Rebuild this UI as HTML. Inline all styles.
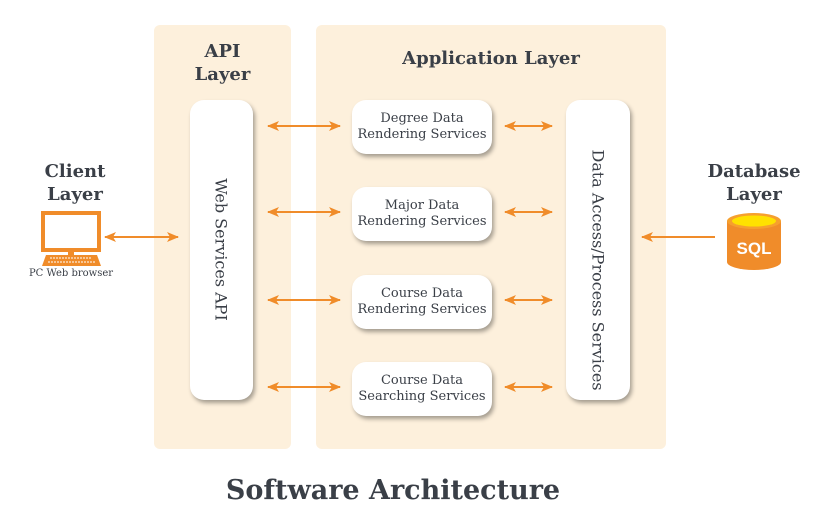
<!DOCTYPE html>
<html><head><style>
body{margin:0;width:816px;height:520px;background:#fff;position:relative;font-family:"DejaVu Serif","Liberation Serif",serif;color:#3a3f47;overflow:hidden}
.p{position:absolute;background:#fdf0dc;border-radius:6px}
.b{position:absolute;background:#fff;border-radius:14px;box-shadow:2px 3px 4px rgba(0,0,0,.35)}
.h{position:absolute;font-weight:bold;font-size:18px;text-align:center;line-height:23px}
.s{position:absolute;left:352px;width:140px;height:54px;background:#fff;border-radius:14px;box-shadow:2px 3px 4px rgba(0,0,0,.35);font-size:13px;text-align:center;line-height:16px;display:flex;align-items:center;justify-content:center}
.v{position:absolute;font-size:16px;white-space:nowrap;transform:rotate(90deg);transform-origin:center}
</style></head><body>
<div class="p" style="left:154px;top:25px;width:137px;height:424px"></div>
<div class="p" style="left:316px;top:25px;width:350px;height:424px"></div>
<div class="h" style="left:154px;top:40px;width:137px">API<br>Layer</div>
<div class="h" style="left:316px;top:47px;width:350px">Application Layer</div>
<div class="h" style="left:20px;top:160px;width:110px">Client<br>Layer</div>
<div class="h" style="left:690px;top:160px;width:128px">Database<br>Layer</div>
<div class="b" style="left:190px;top:100px;width:63px;height:300px"></div>
<div class="b" style="left:566px;top:100px;width:64px;height:300px"></div>
<div class="v" style="left:121px;top:240px;width:200px;text-align:center">Web Services API</div>
<div class="v" style="left:498px;top:240px;width:200px;text-align:center">Data Access/Process Services</div>
<div class="s" style="top:100px">Degree Data<br>Rendering Services</div>
<div class="s" style="top:187px">Major Data<br>Rendering Services</div>
<div class="s" style="top:275px">Course Data<br>Rendering Services</div>
<div class="s" style="top:362px">Course Data<br>Searching Services</div>
<div style="position:absolute;left:0;top:268px;width:142px;text-align:center;font-size:10px">PC Web browser</div>
<div style="position:absolute;left:0;top:475px;width:786px;text-align:center;font-size:27px;font-weight:bold">Software Architecture</div>
<svg width="816" height="520" style="position:absolute;left:0;top:0">
<defs>
<marker id="a" markerWidth="12" markerHeight="10" refX="11" refY="5" orient="auto-start-reverse" markerUnits="userSpaceOnUse"><path d="M0,0L12,5L0,10L3,5Z" fill="#f08c2a"/></marker>
</defs>
<g stroke="#f08c2a" stroke-width="2" marker-start="url(#a)" marker-end="url(#a)">
<line x1="268" y1="126" x2="340" y2="126"/><line x1="505" y1="126" x2="552" y2="126"/>
<line x1="268" y1="212" x2="340" y2="212"/><line x1="505" y1="212" x2="552" y2="212"/>
<line x1="268" y1="300" x2="340" y2="300"/><line x1="505" y1="300" x2="552" y2="300"/>
<line x1="268" y1="387" x2="340" y2="387"/><line x1="505" y1="387" x2="552" y2="387"/>
<line x1="105" y1="237" x2="178" y2="237"/>
</g>
<line x1="715" y1="237" x2="642" y2="237" stroke="#f08c2a" stroke-width="2" marker-end="url(#a)"/>
<rect x="43" y="213" width="56" height="37" fill="#fff" stroke="#f08c2a" stroke-width="4"/>
<rect x="68" y="250" width="6" height="5" fill="#f08c2a"/>
<path d="M46,255H97L101,266H42Z" fill="#f08c2a"/>
<path d="M50,258H92M48,262H95" stroke="#fff" stroke-width="1" stroke-dasharray="2 1"/>
<path d="M727,221V262A27,8 0 0 0 781,262V221Z" fill="#f08c2a"/>
<ellipse cx="754" cy="221" rx="27" ry="8" fill="#f6a02e"/>
<ellipse cx="754" cy="221" rx="22" ry="5.5" fill="#ffe100"/>
<text x="754" y="254" text-anchor="middle" font-family="Liberation Sans,sans-serif" font-weight="bold" font-size="17" fill="#fff">SQL</text>
</svg>
</body></html>
